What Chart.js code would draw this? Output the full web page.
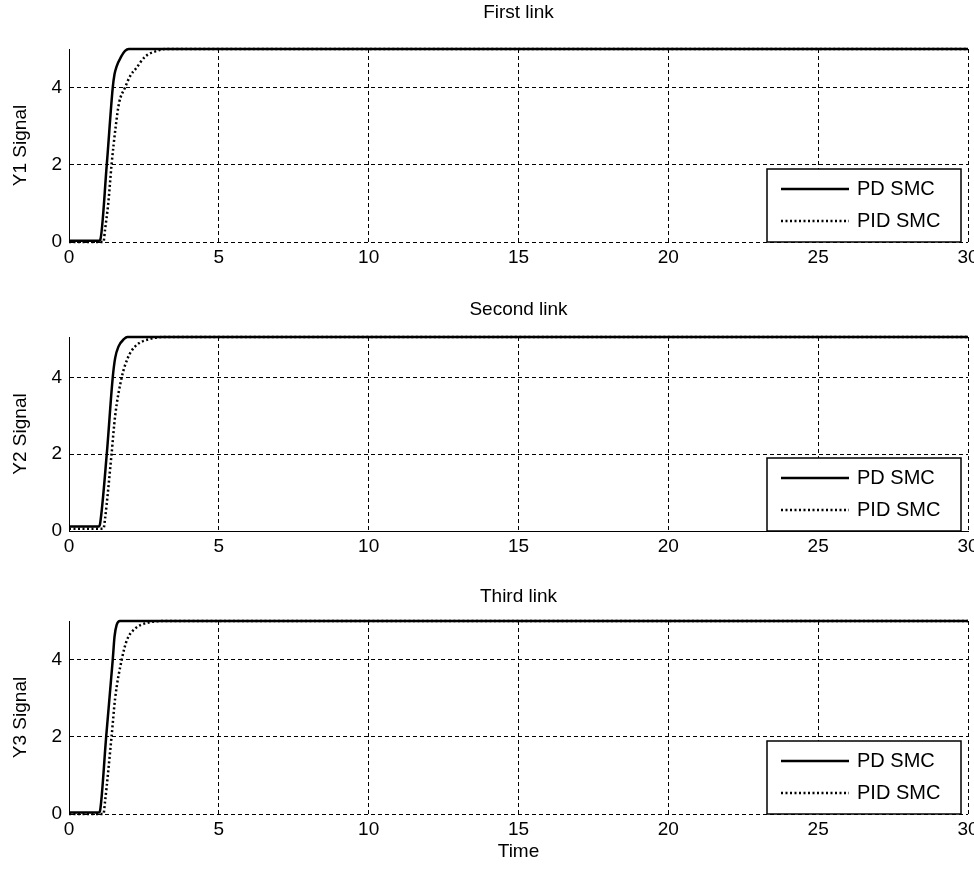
<!DOCTYPE html>
<html>
<head>
<meta charset="utf-8">
<script src="https://cdn.jsdelivr.net/npm/chart.js@4/dist/chart.umd.min.js"></script>
<style>
  body { margin: 0; background: #fff; }
  .plot { position: absolute; left: 0; }
</style>
</head>
<body>
<canvas id="link1" class="plot" width="974" height="270" style="top:0px"></canvas>
<canvas id="link2" class="plot" width="974" height="274" style="top:285px"></canvas>
<canvas id="link3" class="plot" width="974" height="304" style="top:570px"></canvas>
<script>
// tick labels
const xTicks = [0, 5, 10, 15, 20, 25, 30];
const yTicks = [0, 2, 4];

// first link
const t1PD  = [0, 1.0, 1.04, 1.26, 1.46, 1.52, 1.59, 1.74, 1.87, 2.0, 30];
const y1PD  = [0.03, 0.03, 0.05, 2, 4, 4.35, 4.55, 4.8, 4.95, 5, 5];
const t1PID = [0, 1.15, 1.2, 1.31, 1.42, 1.56, 1.67, 1.87, 2.04, 2.24, 2.54, 2.93, 3.2, 30];
const y1PID = [0, 0, 0.3, 1, 2, 3, 3.6, 4, 4.3, 4.5, 4.8, 4.95, 5, 5];

// second link
const t2PD  = [0, 1.0, 1.04, 1.26, 1.46, 1.54, 1.65, 1.84, 1.95, 30];
const y2PD  = [0.12, 0.12, 0.2, 2, 4, 4.5, 4.8, 5.0, 5.05, 5.05];
const t2PID = [0, 1.15, 1.2, 1.42, 1.54, 1.76, 1.96, 2.2, 2.7, 3.3, 30];
const y2PID = [0.06, 0.06, 0.3, 2, 3, 4, 4.5, 4.8, 5.0, 5.05, 5.05];

// third link
const t3PD  = [0, 1.0, 1.04, 1.24, 1.46, 1.52, 1.59, 1.7, 30];
const y3PD  = [0.04, 0.04, 0.1, 2, 4, 4.6, 4.9, 5, 5];
const t3PID = [0, 1.15, 1.2, 1.42, 1.54, 1.76, 1.93, 2.2, 2.6, 3.2, 30];
const y3PID = [0, 0, 0.3, 2, 3, 4, 4.5, 4.8, 4.95, 5, 5];

const FONT = '"Liberation Sans", Arial, sans-serif';
Chart.defaults.font.family = FONT;
Chart.defaults.font.size = 19;
Chart.defaults.color = '#000';

// legend box drawn inside the plot, lower right (like matlab 'Location','SouthEast')
const boxLegend = {
    id: 'boxLegend',
    afterDatasetsDraw(chart) {
        const { ctx, chartArea } = chart;
        const w = 194, h = 73;
        const x0 = chartArea.right - 7 - w;
        const y0 = chartArea.bottom - h;
        ctx.save();
        ctx.fillStyle = '#fff';
        ctx.fillRect(x0, y0, w, h);
        ctx.strokeStyle = '#000';
        ctx.lineWidth = 1.5;
        ctx.strokeRect(x0, y0, w, h);
        chart.data.datasets.forEach((ds, i) => {
            const ly = y0 + 20 + i * 32;
            ctx.beginPath();
            ctx.setLineDash(ds.borderDash || []);
            ctx.lineWidth = ds.borderWidth;
            ctx.moveTo(x0 + 14, ly);
            ctx.lineTo(x0 + 82, ly);
            ctx.stroke();
            ctx.setLineDash([]);
            ctx.fillStyle = '#000';
            ctx.font = '20px ' + FONT;
            ctx.textBaseline = 'middle';
            ctx.fillText(ds.label, x0 + 90, ly);
        });
        ctx.restore();
    }
};

function toPoints(ts, ys) {
    return ts.map((t, i) => ({ x: t, y: ys[i] }));
}

function makeLinkChart(id, title, yLabel, tPD, yPD, tPID, yPID, yMax, cfg) {
    const ctx = document.getElementById(id).getContext('2d');
    return new Chart(ctx, {
        type: 'line',
        data: {
            datasets: [
                {
                    label: 'PD SMC',
                    data: toPoints(tPD, yPD),
                    borderColor: '#000',
                    borderWidth: 2.5,
                    pointRadius: 0,
                    cubicInterpolationMode: 'monotone',
                    clip: false
                },
                {
                    label: 'PID SMC',
                    data: toPoints(tPID, yPID),
                    borderColor: '#000',
                    borderWidth: 2.5,
                    borderDash: [2, 2.5],
                    pointRadius: 0,
                    cubicInterpolationMode: 'monotone',
                    clip: false
                }
            ]
        },
        options: {
            responsive: false,
            animation: false,
            layout: { padding: { left: 0, right: 6, top: 0, bottom: 0 } },
            scales: {
                x: {
                    type: 'linear',
                    min: 0,
                    max: 30,
                    afterBuildTicks: s => { s.ticks = xTicks.map(v => ({ value: v })); },
                    afterFit: s => { s.height = cfg.xHeight; s.paddingLeft = 0; s.paddingRight = 0; },
                    ticks: { padding: 4, maxRotation: 0 },
                    grid: { color: '#000', drawTicks: false },
                    border: { display: cfg.xBorder, color: '#000', width: 1, dash: [4, 3] },
                    title: {
                        display: !!cfg.xTitle,
                        text: cfg.xTitle || '',
                        padding: { top: 0, bottom: 11 }
                    }
                },
                y: {
                    min: 0,
                    max: yMax,
                    afterBuildTicks: s => { s.ticks = yTicks.map(v => ({ value: v })); },
                    afterFit: s => { s.width = 69; },
                    ticks: { padding: 7 },
                    grid: { color: '#000', drawTicks: false },
                    border: { color: '#000', width: 1, dash: [4, 3] },
                    title: {
                        display: true,
                        text: yLabel,
                        padding: { top: 9, bottom: 0 }
                    }
                }
            },
            plugins: {
                legend: { display: false },
                tooltip: { enabled: false },
                title: {
                    display: true,
                    fullSize: false,
                    text: title,
                    font: { size: 19, weight: 'normal' },
                    padding: cfg.titlePad
                }
            }
        },
        plugins: [boxLegend]
    });
}

makeLinkChart('link1', 'First link', 'Y1 Signal', t1PD, y1PD, t1PID, y1PID, 5,
    { xHeight: 28, xBorder: false, titlePad: { top: 1, bottom: 25.2 } });
makeLinkChart('link2', 'Second link', 'Y2 Signal', t2PD, y2PD, t2PID, y2PID, 5.05,
    { xHeight: 28, xBorder: true, titlePad: { top: 13, bottom: 16.2 } });
makeLinkChart('link3', 'Third link', 'Y3 Signal', t3PD, y3PD, t3PID, y3PID, 5,
    { xHeight: 60, xBorder: false, titlePad: { top: 15, bottom: 13.2 }, xTitle: 'Time' });
</script>
</body>
</html>
